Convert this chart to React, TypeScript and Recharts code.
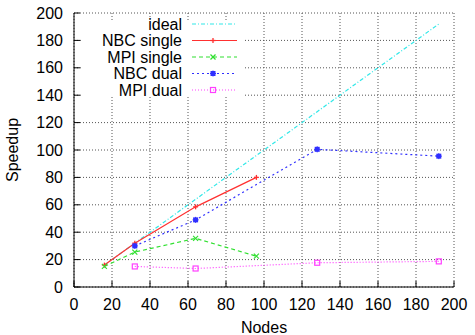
import {
  LineChart,
  Line,
  XAxis,
  YAxis,
  CartesianGrid,
  Legend,
} from "recharts";

const xTicks = [0, 20, 40, 60, 80, 100, 120, 140, 160, 180, 200];
const yTicks = [0, 20, 40, 60, 80, 100, 120, 140, 160, 180, 200];

const idealNodes = [16, 32, 64, 96, 128, 192];
const idealSpeedup = [16, 32, 64, 96, 128, 192];
const singleNodes = [16, 32, 64, 96];
const nbcSingle = [16, 32, 58.5, 80];
const mpiSingle = [15, 25.5, 35.5, 22.5];
const dualNodes = [32, 64, 128, 192];
const nbcDual = [30, 49, 100.5, 95.5];
const mpiDual = [15, 13.5, 17.7, 18.7];

const toPoints = (xs: number[], ys: number[]) =>
  xs.map((x, i) => ({ nodes: x, speedup: ys[i] }));

const FONT = "'Liberation Sans', Arial, sans-serif";

const C_IDEAL = "#30e8e8";
const C_NBC1 = "#ff3030";
const C_MPI1 = "#30e030";
const C_NBC2 = "#3030ff";
const C_MPI2 = "#ff40ff";
const SW = 1.2;

type Mark = "plus" | "cross" | "star" | "square" | "none";

const marker = (kind: Mark, color: string, cx: number, cy: number, key?: any) => {
  const s = 2.5;
  if (kind === "plus")
    return (
      <g key={key}>
        <line x1={cx - s} y1={cy} x2={cx + s} y2={cy} stroke={color} strokeWidth={1.3} />
        <line x1={cx} y1={cy - s} x2={cx} y2={cy + s} stroke={color} strokeWidth={1.3} />
      </g>
    );
  if (kind === "cross")
    return (
      <g key={key}>
        <line x1={cx - s} y1={cy - s} x2={cx + s} y2={cy + s} stroke={color} strokeWidth={1.2} />
        <line x1={cx - s} y1={cy + s} x2={cx + s} y2={cy - s} stroke={color} strokeWidth={1.2} />
      </g>
    );
  if (kind === "star")
    return (
      <g key={key}>
        <rect x={cx - 2.5} y={cy - 2.5} width={5} height={5} fill={color} />
        <line x1={cx - 3} y1={cy} x2={cx + 3} y2={cy} stroke={color} />
        <line x1={cx} y1={cy - 3} x2={cx} y2={cy + 3} stroke={color} />
      </g>
    );
  if (kind === "square")
    return (
      <rect key={key} x={cx - 2.5} y={cy - 2.5} width={5} height={5} fill="none" stroke={color} strokeWidth={1.2} />
    );
  return <g key={key} />;
};

const dotOf = (kind: Mark, color: string) => (p: any) =>
  marker(kind, color, p.cx, p.cy, p.key ?? `${p.cx}-${p.cy}`);

const legendRows: { name: string; color: string; dash?: string; mark: Mark }[] = [
  { name: "ideal", color: C_IDEAL, dash: "4 2 1 2", mark: "none" },
  { name: "NBC single", color: C_NBC1, mark: "plus" },
  { name: "MPI single", color: C_MPI1, dash: "4 3", mark: "cross" },
  { name: "NBC dual", color: C_NBC2, dash: "2 3", mark: "star" },
  { name: "MPI dual", color: C_MPI2, dash: "1 2", mark: "square" },
];

const KeyBox = () => (
  <svg width={163} height={77} style={{ overflow: "visible", display: "block" }}>
    <rect x={0} y={0} width={163} height={77} fill="#fff" />
    {legendRows.map((r, i) => {
      const y = 4 + i * 16.5;
      return (
        <g key={r.name}>
          <text
            x={101}
            y={y}
            textAnchor="end"
            dominantBaseline="central"
            fontFamily={FONT}
            fontSize={16}
            fill="#000"
          >
            {r.name}
          </text>
          <line x1={111} y1={y} x2={156} y2={y} stroke={r.color} strokeWidth={SW} strokeDasharray={r.dash} />
          {marker(r.mark, r.color, 132, y)}
        </g>
      );
    })}
  </svg>
);

export default function App() {
  return (
    <div style={{ position: "absolute", left: 0, top: 0 }}>
      <style>{`body{margin:0}`}</style>
      <LineChart
        width={475}
        height={335}
        margin={{ top: 13, right: 21, left: 14, bottom: 2 }}
      >
        <CartesianGrid stroke="#555" strokeDasharray="1 2" />
        <XAxis
          dataKey="nodes"
          type="number"
          domain={[0, 200]}
          ticks={xTicks}
          height={46}
          axisLine={{ stroke: "#000" }}
          tickLine={{ stroke: "#000" }}
          tickSize={-6}
          tickMargin={18}
          tick={{ fill: "#000", fontSize: 16, fontFamily: FONT }}
          label={{
            content: () => (
              <text x={264} y={327} textAnchor="middle" dominantBaseline="central" fontFamily={FONT} fontSize={16} fill="#000">
                Nodes
              </text>
            ),
          }}
        />
        <XAxis
          xAxisId="top"
          orientation="top"
          type="number"
          domain={[0, 200]}
          ticks={xTicks}
          height={0}
          mirror
          tick={false}
          axisLine={{ stroke: "#000" }}
          tickLine={{ stroke: "#000" }}
        />
        <YAxis
          type="number"
          domain={[0, 200]}
          ticks={yTicks}
          width={60}
          axisLine={{ stroke: "#000" }}
          tickLine={{ stroke: "#000" }}
          tickSize={-6}
          tickMargin={17}
          tick={{ fill: "#000", fontSize: 16, fontFamily: FONT }}
          label={{
            content: () => (
              <text x={12} y={150} transform="rotate(-90 12 150)" textAnchor="middle" dominantBaseline="central" fontFamily={FONT} fontSize={16} fill="#000">
                Speedup
              </text>
            ),
          }}
        />
        <YAxis
          yAxisId="right"
          orientation="right"
          type="number"
          domain={[0, 200]}
          ticks={yTicks}
          width={0}
          mirror
          tick={false}
          axisLine={{ stroke: "#000" }}
          tickLine={{ stroke: "#000" }}
        />
        <Legend
          layout="vertical"
          align="center"
          verticalAlign="middle"
          wrapperStyle={{ left: 81, top: 20, width: 163, height: 77, right: "auto", bottom: "auto" }}
          content={() => <KeyBox />}
        />
        <Line
          data={toPoints(idealNodes, idealSpeedup)}
          dataKey="speedup"
          name="ideal"
          stroke={C_IDEAL}
          strokeWidth={SW}
          strokeDasharray="4 2 1 2"
          dot={false}
          isAnimationActive={false}
        />
        <Line
          data={toPoints(singleNodes, nbcSingle)}
          dataKey="speedup"
          name="NBC single"
          stroke={C_NBC1}
          strokeWidth={SW}
          dot={dotOf("plus", C_NBC1)}
          isAnimationActive={false}
        />
        <Line
          data={toPoints(singleNodes, mpiSingle)}
          dataKey="speedup"
          name="MPI single"
          stroke={C_MPI1}
          strokeWidth={SW}
          strokeDasharray="4 3"
          dot={dotOf("cross", C_MPI1)}
          isAnimationActive={false}
        />
        <Line
          data={toPoints(dualNodes, nbcDual)}
          dataKey="speedup"
          name="NBC dual"
          stroke={C_NBC2}
          strokeWidth={SW}
          strokeDasharray="2 3"
          dot={dotOf("star", C_NBC2)}
          isAnimationActive={false}
        />
        <Line
          data={toPoints(dualNodes, mpiDual)}
          dataKey="speedup"
          name="MPI dual"
          stroke={C_MPI2}
          strokeWidth={SW}
          strokeDasharray="1 2"
          dot={dotOf("square", C_MPI2)}
          isAnimationActive={false}
        />
      </LineChart>
    </div>
  );
}
